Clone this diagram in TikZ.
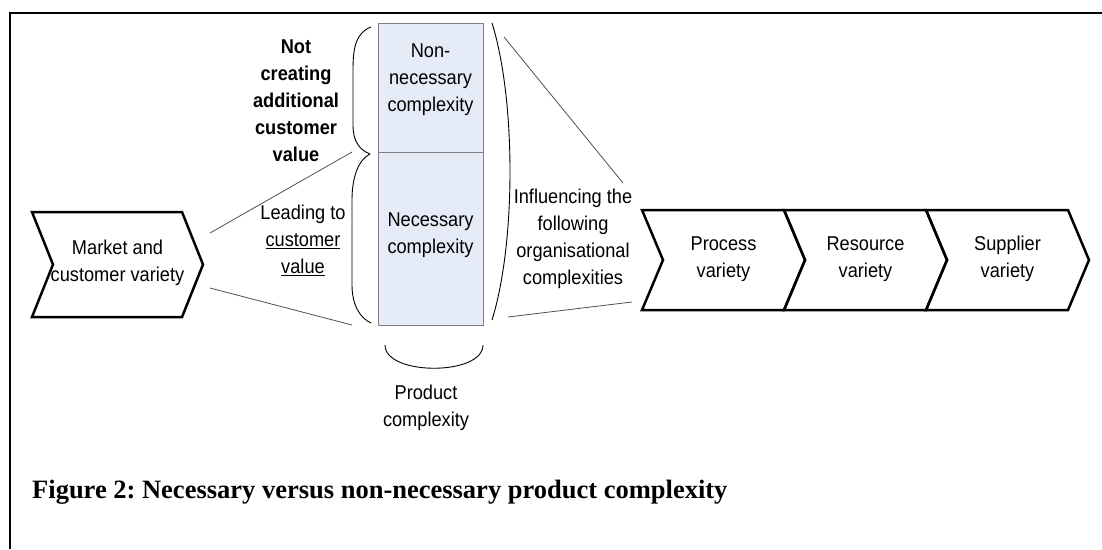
\documentclass[tikz,border=0pt]{standalone}
\usepackage{fontspec}
\setmainfont{Liberation Sans}[FakeStretch=0.91]
\newfontfamily\captionfont{Liberation Serif}
\usetikzlibrary{positioning}
\frenchspacing

\definecolor{boxfill}{HTML}{E6ECF7}
\definecolor{boxline}{HTML}{7F7F7F}
\definecolor{linkgray}{HTML}{505050}

\tikzset{
  chevron/.style={line width=2.5pt, line join=miter},
  box/.style={draw=boxline, fill=boxfill, line width=1pt},
  lbl/.style={align=center, inner sep=0pt, font=\fontsize{20}{27}\selectfont},
  link/.style={draw=linkgray, line width=0.8pt},
  brace/.style={draw=black, line width=0.9pt},
}

\begin{document}
\begin{tikzpicture}[x=1pt, y=-1pt]
  \useasboundingbox (0,0) rectangle (1102,549);
  % frame (open to the right and below)
  \draw[line width=2pt] (10,549) -- (10,13) -- (1102,13);

  % market chevron (left)
  \draw[chevron] (32,212) -- (182,212) -- (203,264.5) -- (182,317) -- (32,317) -- (53,264.5) -- cycle;
  \node[lbl] (mkt) at (117.5,263) {Market and\\customer variety};
  \coordinate (mkt-up) at (210,233);
  \coordinate (mkt-dn) at (210,288);

  % product complexity split in two
  \draw[box] (378,23) rectangle (483,152);
  \draw[box] (378,152) rectangle (483,325);
  \node[lbl] (nonnec) at (430.5,80) {Non-\\necessary\\complexity};
  \node[lbl] (nec) at (430.5,235) {Necessary\\complexity};

  % braces round the boxes
  \coordinate (tip) at (370,154);
  \draw[brace] (371,27) .. controls (355,33) and (353,50) .. (353,70) -- (353,125) .. controls (353,142) and (360,150) .. (tip);
  \draw[brace] (tip) .. controls (358,160) and (352,178) .. (352,200) -- (352,285) .. controls (352,305) and (360,318) .. (371,323);
  \draw[brace] (492,23) .. controls (516,100) and (516,243) .. (492,320);
  \draw[brace] (385,345) .. controls (385,376) and (483,376) .. (483,345);
  \coordinate (nn-in) at (352,152);
  \coordinate (nec-in) at (352,325);

  % side labels
  \node[lbl, font=\fontsize{20}{27}\selectfont\bfseries] (notval) at (296,101) {Not\\creating\\additional\\customer\\value};
  \node[lbl] (leadval) at (303,240) {Leading to\\\underline{customer}\\\underline{value}};
  \node[lbl] (infl) at (573,239) {Influencing the\\following\\organisational\\complexities};
  \node[lbl] (prodcx) at (426,408) {Product\\complexity};

  % organisational chevrons (right)
  \foreach \L/\name/\txt in {642/proc/Process, 784/res/Resource, 926/supp/Supplier} {
    \draw[chevron] (\L,210) -- ++(142,0) -- ++(21,50) -- ++(-21,50) -- ++(-142,0) -- ++(21,-50) -- cycle;
    \node[lbl] (\name) at (\L+81.5,259) {\txt\\variety};
  }
  \coordinate (org-up) at (504,37);
  \coordinate (org-in) at (623,183);
  \coordinate (org-dn) at (508,317);
  \coordinate (proc-in) at (632,302);

  % thin connecting lines
  \draw[link] (mkt-up) -- (nn-in);
  \draw[link] (mkt-dn) -- (nec-in);
  \draw[link] (org-up) -- (org-in);
  \draw[link] (org-dn) -- (proc-in);

  % caption
  \node[anchor=base west, inner sep=0pt, font=\captionfont\bfseries\fontsize{26.5}{30}\selectfont] (cap) at (32,498) {Figure 2: Necessary versus non-necessary product complexity};
\end{tikzpicture}
\end{document}
